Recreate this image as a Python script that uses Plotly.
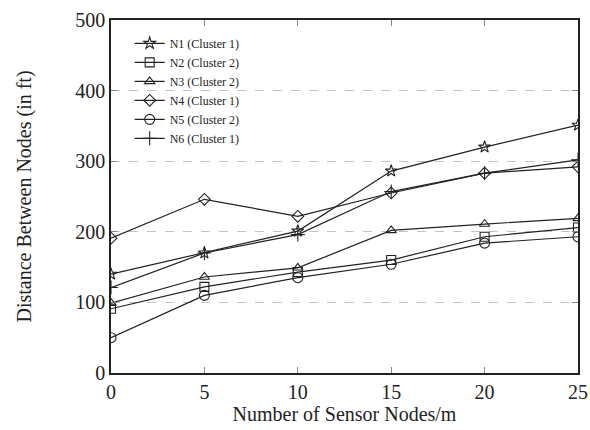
import plotly.graph_objects as go

x_vals = [0, 5, 10, 15, 20, 25]
n1 = [140, 170, 201, 286, 320, 351]
n2 = [91, 122, 143, 160, 193, 206]
n3 = [99, 136, 149, 202, 211, 219]
n4 = [191, 246, 222, 255, 283, 292]
n5 = [50, 110, 135, 154, 184, 193]
n6 = [121, 170, 196, 257, 283, 302]

series = [
    ("N1 (Cluster 1)", n1, "star-open", 9),
    ("N2 (Cluster 2)", n2, "square-open", 9),
    ("N3 (Cluster 2)", n3, "triangle-up-open", 9),
    ("N4 (Cluster 1)", n4, "diamond-open", 9),
    ("N5 (Cluster 2)", n5, "circle-open", 10),
    ("N6 (Cluster 1)", n6, "cross-thin-open", 10),
]

fig = go.Figure()
for name, ys, sym, sz in series:
    fig.add_trace(go.Scatter(
        x=x_vals, y=ys, name=name, mode="lines+markers",
        line=dict(color="#222222", width=1.2),
        marker=dict(symbol=sym, size=sz,
                    color="#222222", line=dict(color="#222222", width=1.1)),
    ))

font_fam = "Liberation Serif, Times New Roman, serif"
fig.update_layout(
    width=590, height=430,
    margin=dict(l=111, r=12, t=20, b=57, autoexpand=False),
    plot_bgcolor="white", paper_bgcolor="white",
    font=dict(family=font_fam, color="#222222"),
    showlegend=True,
    legend=dict(x=0.04, y=0.975, xanchor="left", yanchor="top",
                font=dict(size=12, family=font_fam),
                bgcolor="rgba(255,255,255,0)", borderwidth=0,
                tracegroupgap=0, itemwidth=30),
)
fig.update_xaxes(
    range=[0, 25], tickvals=x_vals, ticks="inside", ticklen=6,
    tickcolor="#888888", mirror="ticks", showline=True, linecolor="#222222",
    linewidth=1.5, showgrid=False, zeroline=False, automargin=False,
    tickfont=dict(size=20, family=font_fam),
    title=dict(text="Number of Sensor Nodes/m", font=dict(size=20, family=font_fam), standoff=3),
)
fig.update_yaxes(
    range=[0, 500], tickvals=[0, 100, 200, 300, 400, 500], ticks="inside", ticklen=6,
    tickcolor="#888888", mirror="ticks", showline=True, linecolor="#222222",
    linewidth=1.5, showgrid=True, gridcolor="#c4c4c4", griddash="dash", gridwidth=1,
    zeroline=False, automargin=False,
    tickfont=dict(size=20, family=font_fam),
    title=dict(text="Distance Between Nodes (in ft)", font=dict(size=20, family=font_fam), standoff=38),
)
fig.write_html("out.html", config={"displayModeBar": False},
               post_script="document.body.style.margin='0';document.body.style.overflow='hidden';")
